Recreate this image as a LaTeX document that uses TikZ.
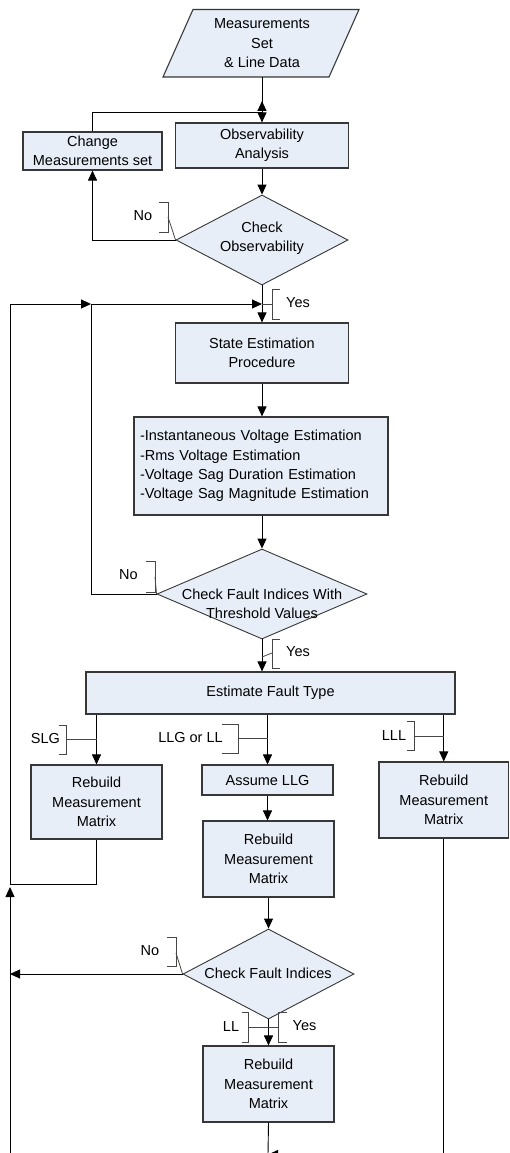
\documentclass[tikz,border=0pt]{standalone}
\usepackage{fontspec}
\setmainfont{Liberation Sans}
\usetikzlibrary{arrows.meta,shapes.geometric,calc}
\definecolor{boxfill}{RGB}{232,238,248}
\definecolor{edgec}{RGB}{55,55,55}
\definecolor{brkc}{RGB}{70,70,70}
\begin{document}
\begin{tikzpicture}[x=1pt,y=-1pt,
  font=\fontsize{14.5}{19.3}\selectfont,
  box/.style={draw=edgec, fill=boxfill, line width=1.1pt, inner sep=0pt, align=center},
  dia/.style={draw=edgec, fill=boxfill, line width=0.9pt, shape=diamond, inner sep=0pt},
  arr/.style={draw=black, line width=0.9pt, -{Triangle[length=10pt,width=9pt]}},
  con/.style={draw=black, line width=0.9pt},
  brk/.style={draw=brkc, line width=0.8pt},
  lbl/.style={inner sep=0pt}]
\useasboundingbox (0,0) rectangle (509,1153);
\fill[white] (0,0) rectangle (509,1153);

% input parallelogram
\draw[draw=edgec, fill=boxfill, line width=1.1pt] (193,9.5) -- (359,9.5) -- (329,77) -- (163,77) -- cycle;
\node[inner sep=0pt, minimum height=67.5, align=center] (data) at (262,43.25) {Measurements\\Set\\\& Line Data};

% main nodes
\node[box, minimum width=173, minimum height=45] (obs) at (262,145.5) {Observability\\Analysis};
\node[box, minimum width=139, minimum height=38] (chg) at (92.5,151) {Change\\Measurements set};
\node[dia, minimum width=172, minimum height=90] (d1) at (262,240) {};
\node[lbl, align=center] (d1t) at (262,238.5) {Check\\Observability};
\node[box, minimum width=173, minimum height=60] (se) at (262,353) {State Estimation\\Procedure};
\node[box, minimum width=254, minimum height=98, text width=242pt, inner xsep=6pt, align=left] (est) at (261,466)
  {-Instantaneous Voltage Estimation\\-Rms Voltage Estimation\\-Voltage Sag Duration Estimation\\-Voltage Sag Magnitude Estimation};
\node[dia, minimum width=210, minimum height=90] (d2) at (262,594) {};
\node[lbl, align=center] (d2t) at (262,603.5) {Check Fault Indices With\\Threshold Values};
\node[box, minimum width=369, minimum height=42] (eft) at (270.5,693) {Estimate Fault Type};
\node[box, minimum width=131, minimum height=74] (r1) at (96.5,802) {Rebuild\\Measurement\\Matrix};
\node[box, minimum width=131, minimum height=30] (llg) at (267.5,780) {Assume LLG};
\node[box, minimum width=131, minimum height=76] (r2) at (268.5,859) {Rebuild\\Measurement\\Matrix};
\node[box, minimum width=129.5, minimum height=76] (r3) at (443.75,800) {Rebuild\\Measurement\\Matrix};
\node[dia, minimum width=171, minimum height=90] (d3) at (268.5,974) {};
\node[lbl] (d3t) at (268,973.5) {Check Fault Indices};
\node[box, minimum width=131, minimum height=76] (r4) at (268.5,1084) {Rebuild\\Measurement\\Matrix};

% junction coordinates
\coordinate (jA) at (262,112);
\coordinate (jAu) at (262,101);
\coordinate (jM) at (262,304);
\coordinate (jT) at (91,304);
\coordinate (jL) at (10,884);
\coordinate (jLa) at (10,887);
\coordinate (m) at (268,1154.5);

% connectors
\draw[arr] (data.south) -- (obs.north);
\draw[con] (chg.north) |- (jA);
\draw[arr] (jA) -- (jAu);
\draw[arr] (obs.south) -- (d1.north);
\draw[arr] (d1.west) -| (chg.south);
\draw[arr] (d1.south) -- (se.north);
\draw[arr] (se.south) -- (se.south |- est.north);
\draw[arr] (d2.north |- est.south) -- (d2.north);
\draw[arr] (d2.west) -| (jT) -- (jM);
\draw[arr] (jL) |- (jT);
\draw[con] (r1.south) |- (jL);
\draw[arr] (d2.south) -- (d2.south |- eft.north);
\draw[arr] (r1.north |- eft.south) -- (r1.north);
\draw[arr] (llg.north |- eft.south) -- (llg.north);
\draw[arr] (r3.north |- eft.south) -- (r3.north);
\draw[arr] (llg.south) -- (llg.south |- r2.north);
\draw[arr] (r2.south) -- (d3.north);
\draw[arr] (d3.west) -- (d3.west -| jL);
\draw[arr] (d3.south) -- (r4.north);
\draw[con] (r4.south) -- (m);
\draw[arr] (r3.south) |- (m);
\draw[arr] (m) -| (jLa);

% labels with brackets
\node[lbl] (no1) at (143,216) {No};
\draw[brk] (159,202) -- (168,202) -- (168,232) -- (159,232);
\draw[brk] (168,217) -- (d1.west);

\node[lbl] (yes1) at (298,303) {Yes};
\draw[brk] (280,289) -- (272,289) -- (272,319) -- (280,319);
\draw[brk] (272,304) -- (jM);

\node[lbl] (no2) at (128.5,575) {No};
\draw[brk] (146,561) -- (155,561) -- (155,592) -- (146,592);
\draw[brk] (155,577) -- (d2.west);

\node[lbl] (yes2) at (298,652) {Yes};
\draw[brk] (280,639) -- (272,639) -- (272,668) -- (280,668);
\draw[brk] (272,653) -- (262,657);

\node[lbl] (slg) at (45.5,738) {SLG};
\draw[brk] (59,725) -- (66,725) -- (66,754) -- (59,754);
\draw[brk] (66,739) -- (96.5,739);

\node[lbl] (llgl) at (190.5,737) {LLG or LL};
\draw[brk] (222,724) -- (238,724) -- (238,753) -- (222,753);
\draw[brk] (238,738) -- (267.5,738);

\node[lbl] (lll) at (394,736) {LLL};
\draw[brk] (407,721) -- (414,721) -- (414,750) -- (407,750);
\draw[brk] (414,736) -- (443.75,736);

\node[lbl] (no3) at (150,951) {No};
\draw[brk] (167,937) -- (176,937) -- (176,966) -- (167,966);
\draw[brk] (176,953) -- (d3.west);

\node[lbl] (ll) at (231,1026) {LL};
\draw[brk] (242,1012) -- (248,1012) -- (248,1042) -- (242,1042);
\draw[brk] (248,1027) -- (268.5,1027);

\node[lbl] (yes3) at (304.5,1026) {Yes};
\draw[brk] (287,1012) -- (278,1012) -- (278,1042) -- (287,1042);
\draw[brk] (278,1027) -- (268.5,1027);
\end{tikzpicture}
\end{document}
